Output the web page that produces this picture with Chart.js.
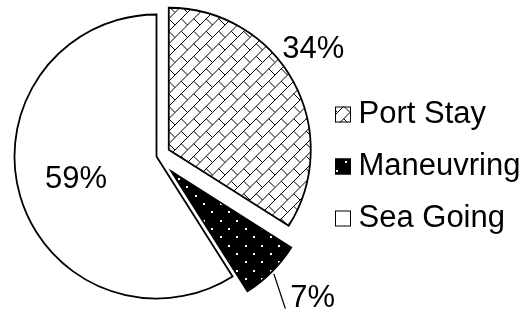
<!DOCTYPE html>
<html lang="en">
<head>
<meta charset="UTF-8">
<title>Modos de operación</title>
<script src="https://cdn.jsdelivr.net/npm/chart.js"></script>
<style>
  html, body { margin: 0; padding: 0; background: #fff; }
</style>
</head>
<body>
<canvas id="grafico" width="527" height="313"></canvas>
<script>
// datos
const labels = ['Port Stay', 'Maneuvring', 'Sea Going'];
const shares = [34, 7, 59];

// estilo: cuanto se separa cada porcion (px) y donde va cada etiqueta
const explode = [14, 21, 0];
const labelPlace = [[1.24, -6], [1.34, -3], [0.59, 0]]; // [factor radio, giro en grados]
const leader = [false, true, false];
const FONT = '31px "Liberation Sans", Arial, sans-serif';

const canvas = document.getElementById('grafico');
const ctx = canvas.getContext('2d');

function patron(tipo) {
  const c = document.createElement('canvas');
  c.width = 50; c.height = 50;
  const g = c.getContext('2d');
  if (tipo === 'ladrillo') {
    const s = 50 / 4;
    g.fillStyle = '#fff';
    g.fillRect(0, 0, 50, 50);
    g.strokeStyle = '#000';
    g.lineWidth = 1;
    for (let i = -1; i <= 4; i++) {
      for (let j = -1; j <= 4; j++) {
        const ox = i * s, oy = j * s;
        g.beginPath();
        g.moveTo(ox + s, oy); g.lineTo(ox, oy + s);
        g.moveTo(ox + s / 2, oy + s / 2); g.lineTo(ox + s, oy + s);
        g.stroke();
      }
    }
  } else {
    const s = 50 / 3;
    g.fillStyle = '#000';
    g.fillRect(0, 0, 50, 50);
    g.fillStyle = '#fff';
    for (let i = 0; i < 3; i++) {
      for (let j = 0; j < 3; j++) {
        const ox = i * s, oy = j * s;
        g.fillRect(Math.round(ox + 3), Math.round(oy + 3), 2, 2);
        g.fillRect(Math.round(ox + 3 + s / 2), Math.round(oy + 3 + s / 2), 2, 2);
      }
    }
  }
  return ctx.createPattern(c, 'repeat');
}

const fondos = [patron('ladrillo'), patron('puntos'), '#ffffff'];

// separa las porciones a lo largo de su angulo medio
const separar = {
  id: 'separar',
  afterDatasetUpdate(chart, args) {
    const meta = chart.getDatasetMeta(args.index);
    meta.data.forEach((arc, i) => {
      const mid = (arc.startAngle + arc.endAngle) / 2;
      arc.x += Math.cos(mid) * explode[i];
      arc.y += Math.sin(mid) * explode[i];
    });
  }
};

// etiquetas de porcentaje y leyenda
const textos = {
  id: 'textos',
  afterDraw(chart) {
    const c = chart.ctx;
    const meta = chart.getDatasetMeta(0);
    c.save();
    c.font = FONT;
    c.fillStyle = '#000';
    c.textAlign = 'center';
    c.textBaseline = 'middle';
    meta.data.forEach((arc, i) => {
      const mid = (arc.startAngle + arc.endAngle) / 2;
      const a = mid + labelPlace[i][1] * Math.PI / 180;
      const r = arc.outerRadius * labelPlace[i][0];
      const x = arc.x + Math.cos(a) * r;
      const y = arc.y + Math.sin(a) * r;
      const txt = shares[i] + '%';
      c.fillText(txt, x, y);
      if (leader[i]) {
        const w = c.measureText(txt).width;
        c.beginPath();
        c.strokeStyle = '#000';
        c.lineWidth = 1.3;
        c.moveTo(arc.x + Math.cos(mid) * (arc.outerRadius + 3), arc.y + Math.sin(mid) * (arc.outerRadius + 3));
        c.lineTo(x - w / 2 - 5, y + 10);
        c.stroke();
      }
    });

    // leyenda
    const lx = 335, ly = 114.5, paso = 52, caja = 16;
    c.textAlign = 'left';
    labels.forEach((lab, i) => {
      const y = ly + i * paso;
      c.fillStyle = fondos[i];
      c.fillRect(lx, y - caja / 2, caja, caja);
      c.strokeStyle = '#000';
      c.lineWidth = 1;
      c.strokeRect(lx + 0.5, y - caja / 2 + 0.5, caja - 1, caja - 1);
      c.fillStyle = '#000';
      c.fillText(lab, 358.5, y);
    });
    c.restore();
  }
};

new Chart(ctx, {
  type: 'pie',
  data: {
    labels: labels,
    datasets: [{
      data: shares,
      backgroundColor: fondos,
      borderColor: '#000',
      borderWidth: 1.8,
      borderJoinStyle: 'miter',
      radius: 142
    }]
  },
  options: {
    responsive: false,
    animation: false,
    layout: { padding: { left: 0, right: 214, top: 0, bottom: 0 } },
    plugins: {
      legend: { display: false },
      tooltip: { enabled: false }
    }
  },
  plugins: [separar, textos]
});
</script>
</body>
</html>
